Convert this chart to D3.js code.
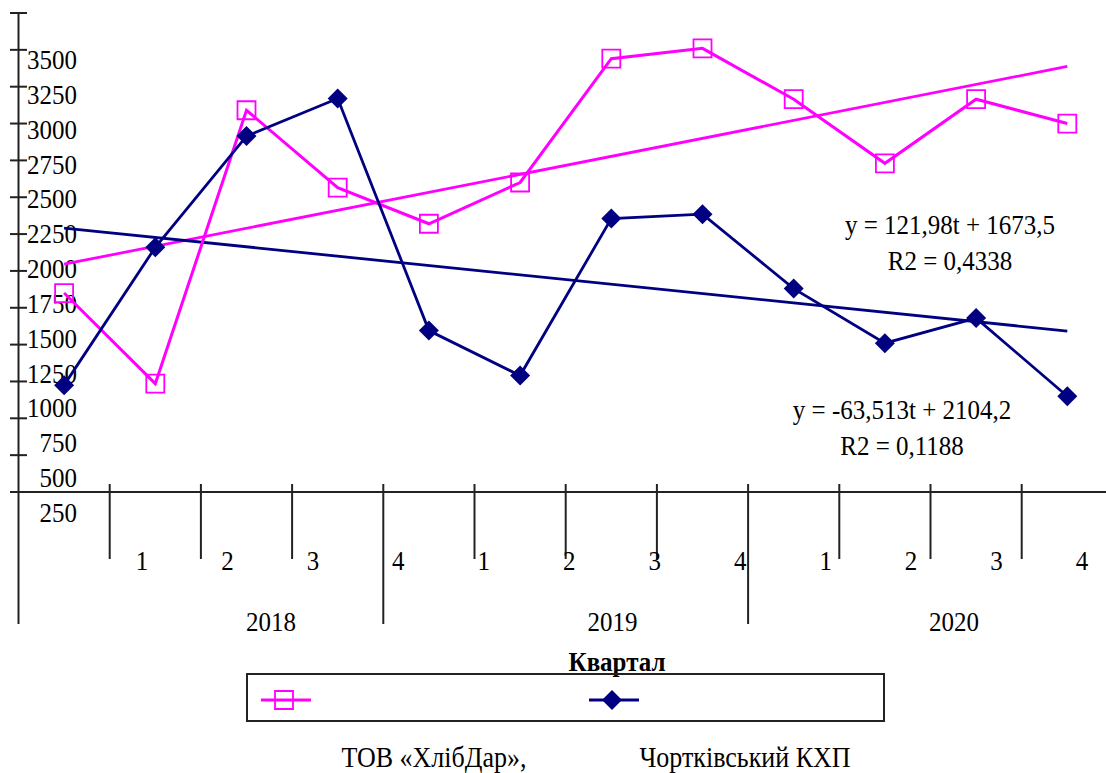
<!DOCTYPE html>
<html>
<head>
<meta charset="utf-8">
<script src="https://cdn.jsdelivr.net/npm/d3@7"></script>
<style>
  body { margin: 0; background: #fff; }
</style>
</head>
<body>
<svg id="chart" width="1106" height="773" font-family="'Liberation Serif', 'DejaVu Serif', serif"></svg>
<script>
// quarters along the x axis
var quarters = ["1", "2", "3", "4", "1", "2", "3", "4", "1", "2", "3", "4"];
var years = ["2018", "2019", "2020"];

// series values
var khlibdar = [1600, 985, 2840, 2315, 2070, 2350, 3190, 3260, 2915, 2480, 2915, 2750];
var chortkiv = [975, 1910, 2665, 2920, 1345, 1040, 2105, 2135, 1630, 1260, 1430, 900];

// linear trends as printed on the chart
var trendKhlibdar = [121.98, 1673.5];
var trendChortkiv = [-63.513, 2104.2];
var eqKhlibdar = ["y = 121,98t + 1673,5", "R2 = 0,4338"];
var eqChortkiv = ["y = -63,513t + 2104,2", "R2 = 0,1188"];

var yTickValues = d3.range(250, 3501, 250);
var seriesNames = ["ТОВ «ХлібДар»,", "Чортківський КХП"];

var pink = "#ff00ff",
    navy = "#000080",
    axisColor = "#222";

var svg = d3.select("#chart");

var y = d3.scaleLinear().domain([250, 3500]).range([492, 13]);
// the tick labels sit a bit tighter than the ticks themselves
var yLabel = d3.scaleLinear().domain([250, 3500]).range([513, 60]);

var x = d3.scaleBand().domain(d3.range(12)).range([18.5, 18.5 + 12 * 91.2]);
var cx = function (i) { return x(i) + x.bandwidth() / 2; };

var qLabel = d3.scalePoint().domain(d3.range(12)).range([142, 1082]);
var yearLabel = d3.scalePoint().domain(years).range([271, 954]);

// stretched serif text like the original
function label(sel, size) {
    return sel
        .attr("text-anchor", "middle")
        .style("font-size", (size || 25) + "px")
        .attr("fill", "#000");
}
function place(xv, yv) {
    return "translate(" + xv + "," + yv + ") scale(1,1.12)";
}

// y axis
var axis = svg.append("g").attr("stroke", axisColor).attr("stroke-width", 2);
axis.append("line").attr("x1", 18.5).attr("x2", 18.5).attr("y1", 13).attr("y2", 624);
axis.selectAll(".ytick")
    .data(yTickValues)
    .enter().append("line")
    .attr("x1", 10).attr("x2", 27)
    .attr("y1", function (d) { return y(d); })
    .attr("y2", function (d) { return y(d); });

// x axis
axis.append("line").attr("x1", 10).attr("x2", 1106).attr("y1", y(250)).attr("y2", y(250));
axis.selectAll(".xtick")
    .data(d3.range(1, 12))
    .enter().append("line")
    .attr("x1", function (k) { return x(k); })
    .attr("x2", function (k) { return x(k); })
    .attr("y1", y(250) - 8)
    .attr("y2", function (k) { return k % 4 == 0 ? 624 : 559; });

label(svg.append("g").selectAll("text")
    .data(yTickValues)
    .enter().append("text"))
    .attr("text-anchor", "end")
    .attr("transform", function (d) { return place(77, yLabel(d) + 9); })
    .text(function (d) { return d; });

label(svg.append("g").selectAll("text")
    .data(quarters)
    .enter().append("text"))
    .attr("transform", function (d, i) { return place(qLabel(i), 570); })
    .text(function (d) { return d; });

label(svg.append("g").selectAll("text")
    .data(years)
    .enter().append("text"))
    .attr("transform", function (d) { return place(yearLabel(d), 631); })
    .text(function (d) { return d; });

// trend lines
function trendLine(coef, color) {
    svg.append("line")
        .attr("x1", cx(0)).attr("y1", y(coef[0] * 1 + coef[1]))
        .attr("x2", cx(11)).attr("y2", y(coef[0] * 12 + coef[1]))
        .attr("stroke", color)
        .attr("stroke-width", 2.8);
}
trendLine(trendKhlibdar, pink);
trendLine(trendChortkiv, navy);

var line = d3.line()
    .x(function (d, i) { return cx(i); })
    .y(function (d) { return y(d); });

svg.append("path")
    .datum(khlibdar)
    .attr("d", line)
    .attr("fill", "none")
    .attr("stroke", pink)
    .attr("stroke-width", 3);

svg.append("path")
    .datum(chortkiv)
    .attr("d", line)
    .attr("fill", "none")
    .attr("stroke", navy)
    .attr("stroke-width", 2.8);

var squarePath = "M-9,-9L9,-9L9,9L-9,9Z";
var diamondPath = "M0,-10L10,0L0,10L-10,0Z";

svg.append("g").selectAll("path")
    .data(khlibdar)
    .enter().append("path")
    .attr("d", squarePath)
    .attr("transform", function (d, i) { return "translate(" + cx(i) + "," + y(d) + ")"; })
    .attr("fill", "none")
    .attr("stroke", pink)
    .attr("stroke-width", 1.8);

svg.append("g").selectAll("path")
    .data(chortkiv)
    .enter().append("path")
    .attr("d", diamondPath)
    .attr("transform", function (d, i) { return "translate(" + cx(i) + "," + y(d) + ")"; })
    .attr("fill", navy);

// trend equations
function equation(lines, xc, yc) {
    label(svg.append("g").selectAll("text")
        .data(lines)
        .enter().append("text"))
        .attr("transform", function (d, i) { return place(xc, yc + 9 + i * 36); })
        .text(function (d) { return d; });
}
equation(eqKhlibdar, 950, 225);
equation(eqChortkiv, 902, 410);

// axis title + legend
label(svg.append("text"))
    .attr("transform", place(617, 671))
    .style("font-weight", "bold")
    .text("Квартал");

svg.append("rect")
    .attr("x", 247).attr("y", 674)
    .attr("width", 637).attr("height", 47)
    .attr("fill", "none")
    .attr("stroke", axisColor)
    .attr("stroke-width", 2);

var legend = [
    {color: pink, x: 286, shape: squarePath, fill: "none", name: seriesNames[0], tx: 434},
    {color: navy, x: 614, shape: diamondPath, fill: navy, name: seriesNames[1], tx: 745}
];

var item = svg.append("g").selectAll("g")
    .data(legend)
    .enter().append("g");

item.append("line")
    .attr("x1", function (d) { return d.x - 25; })
    .attr("x2", function (d) { return d.x + 25; })
    .attr("y1", 700).attr("y2", 700)
    .attr("stroke", function (d) { return d.color; })
    .attr("stroke-width", 3);

item.append("path")
    .attr("d", function (d) { return d.shape; })
    .attr("transform", function (d) { return "translate(" + (d.x - 2) + ",700)"; })
    .attr("fill", function (d) { return d.fill; })
    .attr("stroke", function (d) { return d.fill == "none" ? d.color : "none"; })
    .attr("stroke-width", 1.8);

label(item.append("text"))
    .attr("transform", function (d) { return place(d.tx, 767); })
    .style("font-size", "26px")
    .text(function (d) { return d.name; });
</script>
</body>
</html>
